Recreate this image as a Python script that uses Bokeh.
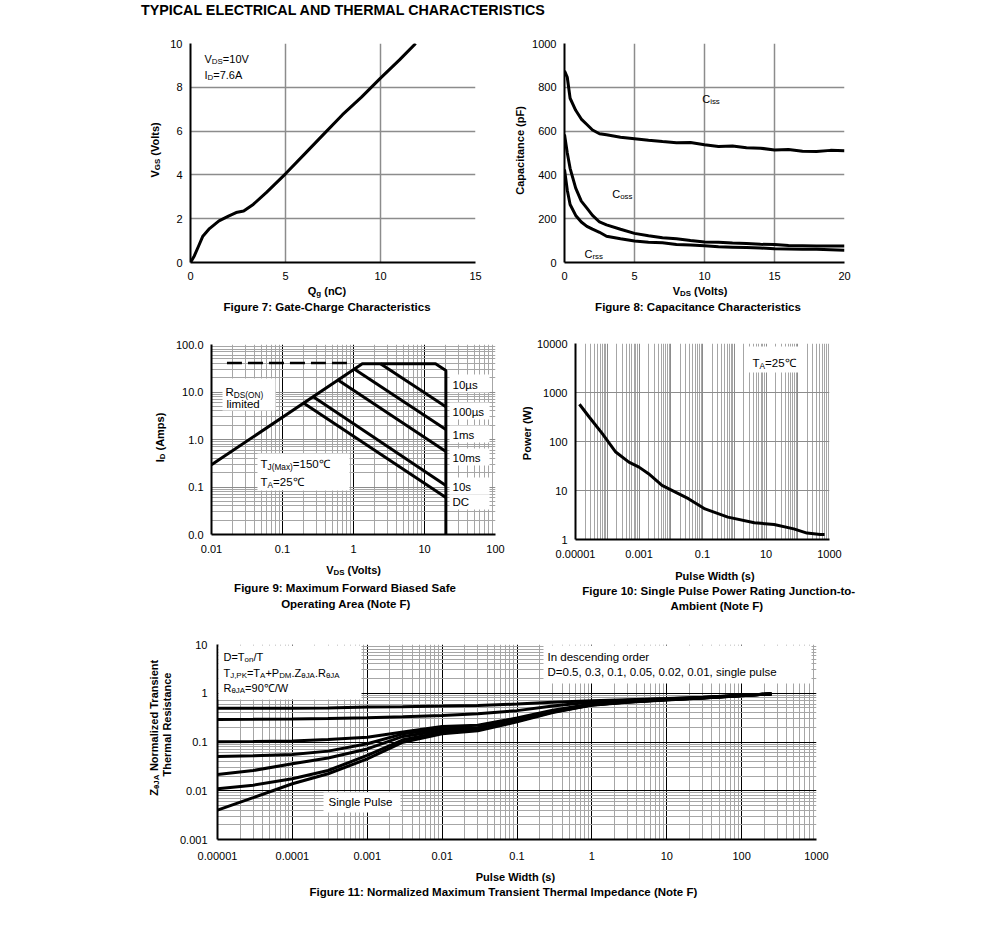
import math
from bokeh.plotting import figure
from bokeh.models import Label, BoxAnnotation, FixedTicker, CustomJSTickFormatter, Range1d, Div
from bokeh.layouts import column, row
from bokeh.embed import file_html
from bokeh.resources import INLINE

FONT = "Liberation Sans"

# ---------------- data ----------------
# Figure 7: gate charge
gate_charge_nc = [0, 0.2, 0.45, 0.65, 1.0, 1.5, 2.0, 2.4, 2.8, 3.3, 4.0, 5.0, 6.0, 7.0, 8.0, 9.0, 10.0, 11.0, 11.85]
gate_voltage_v = [0, 0.3, 0.8, 1.2, 1.55, 1.9, 2.12, 2.28, 2.35, 2.65, 3.2, 4.05, 4.95, 5.85, 6.75, 7.55, 8.42, 9.25, 10.0]
fig7_x_ticks = [0, 5, 10, 15]
fig7_y_ticks = [0, 2, 4, 6, 8, 10]

# Figure 8: capacitance
cap_vds_v = [0, 0.2, 0.4, 0.8, 1.2, 1.6, 2.0, 2.5, 3, 4, 5, 6, 7, 8, 9, 10, 11, 12, 13, 14, 15, 16, 17, 18, 19, 20]
ciss_pf = [875, 845, 750, 695, 655, 630, 605, 588, 583, 572, 565, 558, 552, 547, 548, 538, 530, 532, 524, 522, 514, 516, 508, 507, 512, 510]
coss_pf = [585, 500, 430, 340, 280, 248, 215, 185, 172, 152, 133, 122, 113, 108, 100, 94, 93, 89, 87, 83, 82, 78, 77, 75, 75, 75]
crss_pf = [425, 330, 265, 215, 185, 165, 152, 138, 120, 108, 98, 93, 90, 82, 80, 76, 72, 70, 68, 66, 63, 62, 60, 60, 58, 56]
fig8_x_ticks = [0, 5, 10, 15, 20]
fig8_y_ticks = [0, 200, 400, 600, 800, 1000]

# Figure 9: safe operating area
soa_env_v = [0.01, 1.33, 14.3, 20.0, 20.0]
soa_env_a = [0.293, 39.3, 39.3, 28.5, 0.01]
soa_dash_v = [0.0165, 0.82]
soa_dash_a = [41.0, 41.0]
soa_10us_v, soa_10us_a = [2.40, 20.0], [39.3, 4.9]
soa_100us_v, soa_100us_a = [1.01, 20.0], [30.8, 1.62]
soa_1ms_v, soa_1ms_a = [0.62, 20.0], [17.5, 0.56]
soa_10s_v, soa_10s_a = [0.271, 20.0], [7.94, 0.108]
soa_dc_v, soa_dc_a = [0.2, 20.0], [5.8, 0.06]
fig9_x_ticks = [0.01, 0.1, 1, 10, 100]
fig9_x_labels = ["0.01", "0.1", "1", "10", "100"]
fig9_y_ticks = [0.01, 0.1, 1, 10, 100]
fig9_y_labels = ["0.0", "0.1", "1.0", "10.0", "100.0"]

# Figure 10: single pulse power
pulse_t_s = [1.33e-5, 2.7e-5, 7e-5, 1.85e-4, 4.8e-4, 1e-3, 2e-3, 5.3e-3, 1.4e-2, 3.6e-2, 0.12, 0.63, 4.3, 18, 75, 195, 510, 700]
pulse_p_w = [575, 316, 145, 61, 38, 30, 22, 12.7, 9.3, 6.8, 4.2, 2.86, 2.19, 2.03, 1.65, 1.35, 1.27, 1.27]
fig10_x_ticks = [0.00001, 0.001, 0.1, 10, 1000]
fig10_x_labels = ["0.00001", "0.001", "0.1", "10", "1000"]
fig10_y_ticks = [1, 10, 100, 1000, 10000]
fig10_y_labels = ["1", "10", "100", "1000", "10000"]

# Figure 11: transient thermal impedance
zth_t_s = [1e-5, 3e-5, 1e-4, 3e-4, 1e-3, 3e-3, 1e-2, 3e-2, 0.1, 0.3, 1, 3, 10, 30, 100, 250]
zth_d050 = [0.49, 0.49, 0.495, 0.50, 0.52, 0.53, 0.545, 0.56, 0.60, 0.65, 0.70, 0.74, 0.78, 0.83, 0.91, 0.975]
zth_d030 = [0.29, 0.292, 0.297, 0.303, 0.314, 0.33, 0.35, 0.38, 0.44, 0.55, 0.66, 0.72, 0.77, 0.82, 0.905, 0.975]
zth_d010 = [0.101, 0.102, 0.105, 0.112, 0.125, 0.16, 0.208, 0.22, 0.31, 0.45, 0.60, 0.68, 0.75, 0.81, 0.90, 0.97]
zth_d005 = [0.0505, 0.052, 0.0555, 0.065, 0.092, 0.147, 0.187, 0.197, 0.29, 0.43, 0.59, 0.67, 0.745, 0.805, 0.895, 0.97]
zth_d002 = [0.0215, 0.026, 0.0357, 0.047, 0.072, 0.13, 0.172, 0.188, 0.28, 0.42, 0.58, 0.665, 0.74, 0.80, 0.895, 0.97]
zth_d001 = [0.011, 0.013, 0.0176, 0.026, 0.053, 0.111, 0.159, 0.18, 0.27, 0.41, 0.575, 0.66, 0.735, 0.80, 0.89, 0.97]
zth_single = [0.0040, 0.0072, 0.0139, 0.0223, 0.045, 0.099, 0.147, 0.17, 0.26, 0.40, 0.57, 0.655, 0.73, 0.795, 0.89, 0.97]
fig11_x_ticks = [0.00001, 0.0001, 0.001, 0.01, 0.1, 1, 10, 100, 1000]
fig11_x_labels = ["0.00001", "0.0001", "0.001", "0.01", "0.1", "1", "10", "100", "1000"]
fig11_y_ticks = [0.001, 0.01, 0.1, 1, 10]
fig11_y_labels = ["0.001", "0.01", "0.1", "1", "10"]

# ---------------- text metrics (Arial / Liberation Sans, per 1000 em) ----------------
REG = {' ': 278, '!': 278, '(': 333, ')': 333, '+': 584, ',': 278, '-': 333, '.': 278, '/': 278, ':': 278, '=': 584,
       'A': 667, 'B': 667, 'C': 722, 'D': 722, 'E': 667, 'F': 611, 'G': 778, 'H': 722, 'I': 278, 'J': 500, 'K': 667,
       'L': 556, 'M': 833, 'N': 722, 'O': 778, 'P': 667, 'Q': 778, 'R': 722, 'S': 667, 'T': 611, 'U': 722, 'V': 667,
       'W': 944, 'X': 667, 'Y': 667, 'Z': 611, 'a': 556, 'b': 556, 'c': 500, 'd': 556, 'e': 556, 'f': 278, 'g': 556,
       'h': 556, 'i': 222, 'j': 222, 'k': 500, 'l': 222, 'm': 833, 'n': 556, 'o': 556, 'p': 556, 'q': 556, 'r': 333,
       's': 500, 't': 278, 'u': 556, 'v': 500, 'w': 722, 'x': 500, 'y': 500, 'z': 500, 'µ': 576, 'θ': 556, '℃': 1000}
BOLD = {' ': 278, '(': 333, ')': 333, '-': 333, '.': 278, ':': 333, 'A': 722, 'B': 722, 'C': 722, 'D': 722, 'E': 667,
        'F': 611, 'G': 778, 'H': 722, 'I': 278, 'J': 556, 'L': 611, 'M': 833, 'N': 722, 'O': 778, 'P': 667, 'Q': 778,
        'R': 722, 'S': 667, 'T': 611, 'V': 667, 'W': 944, 'Z': 611, 'a': 556, 'c': 556, 'd': 611, 'e': 556, 'g': 611,
        'h': 611, 'i': 278, 'l': 278, 'm': 889, 'n': 611, 'o': 611, 'p': 611, 'r': 389, 's': 556, 't': 333, 'u': 611,
        'y': 556, 'z': 500, 'θ': 600}

ROT_FIX = 21  # rotated labels are drawn this much higher than their anchor; compensate


def text_w(s, fs, bold):
    table = BOLD if bold else REG
    return sum(table.get(ch, 556) for ch in s) * fs / 1000.0


def rich(p, frame, px, py, parts, size, bold=False, vertical=False, align="left"):
    """Place a run of text pieces (normal 'n' / subscript 's').
    (px, py) are page coordinates of the run's anchor; py (or px when vertical)
    is the visual middle line of the normal-size text."""
    fl, ft, fr, fb = frame
    pieces, total = [], 0.0
    for txt, kind in parts:
        fs = size * 0.72 if kind == "s" else size
        lead = len(txt) - len(txt.lstrip(" "))
        total += text_w(" " * lead, fs, bold)
        pieces.append((txt.lstrip(" "), fs, kind, total))
        total += text_w(txt.lstrip(" "), fs, bold)
    start = {"left": 0.0, "center": -total / 2.0, "right": -total}[align]
    for txt, fs, kind, adv in pieces:
        shift = (0.3465 * (size - fs) + size * 0.22) if kind == "s" else 0.0
        if vertical:
            gx, gy, ang = px + shift, py - (start + adv) + ROT_FIX, math.pi / 2
        else:
            gx, gy, ang = px + start + adv, py + shift, 0.0
        p.add_layout(Label(x=gx - fl, y=fb - gy, x_units="screen", y_units="screen",
                           angle=ang, text=txt,
                           text_font=FONT, text_font_size=f"{fs:.2f}px",
                           text_font_style="bold" if bold else "normal",
                           text_color="black", text_baseline="middle", text_align="left"))


def box(p, frame, x0, y0, x1, y1):
    fl, ft, fr, fb = frame
    p.add_layout(BoxAnnotation(left=x0 - fl, right=x1 - fl, top=fb - y0, bottom=fb - y1,
                               left_units="screen", right_units="screen",
                               top_units="screen", bottom_units="screen",
                               fill_color="white", fill_alpha=1.0, line_color=None))


def log_fmt(values, labels):
    return CustomJSTickFormatter(args=dict(vals=values, labs=labels), code="""
        for (let i = 0; i < vals.length; i++) {
            if (Math.abs(Math.log10(vals[i]) - Math.log10(tick)) < 1e-6) { return labs[i]; }
        }
        return "";
    """)


def decade_minors(lo_exp, hi_exp):
    return [k * 10.0 ** e for e in range(lo_exp, hi_exp) for k in range(2, 10)]


def make_fig(x0, y0, x1, y1, frame, xr, yr, xtype="linear", ytype="linear"):
    fl, ft, fr, fb = frame
    p = figure(width=x1 - x0, height=y1 - y0, x_range=Range1d(*xr), y_range=Range1d(*yr),
               x_axis_type=xtype, y_axis_type=ytype, output_backend="svg",
               toolbar_location=None, min_border_left=fl - x0, min_border_right=x1 - fr,
               min_border_top=ft - y0, min_border_bottom=y1 - fb, title=None)
    p.outline_line_color = None
    p.background_fill_color = "white"
    p.border_fill_color = "white"
    return p


def text_fig(x0, y0, x1, y1):
    """A bare canvas (no axes) that only carries text, so that labels are not clipped."""
    p = figure(width=x1 - x0, height=y1 - y0, x_range=Range1d(0, x1 - x0), y_range=Range1d(0, y1 - y0),
               x_axis_type=None, y_axis_type=None, output_backend="svg", toolbar_location=None,
               min_border=0, title=None)
    p.outline_line_color = None
    p.background_fill_color = "white"
    p.border_fill_color = "white"
    return p, (x0, y0, x1, y1)


def style_axes(p, xt, yt, xfmt=None, yfmt=None, xs=10, ys=8):
    for ax, ticks, fmt, st in ((p.xaxis[0], xt, xfmt, xs), (p.yaxis[0], yt, yfmt, ys)):
        ax.ticker = FixedTicker(ticks=ticks)
        if fmt is not None:
            ax.formatter = fmt
        ax.major_tick_line_color = None
        ax.minor_tick_line_color = None
        ax.major_tick_out = 0
        ax.major_tick_in = 0
        ax.minor_tick_out = 0
        ax.minor_tick_in = 0
        ax.major_label_standoff = st
        ax.major_label_text_font = FONT
        ax.major_label_text_font_size = "11px"
        ax.major_label_text_color = "black"
        ax.axis_line_color = "black"
        ax.axis_line_width = 2


def set_grid(g, major, minor, major_color, minor_color, major_w=1.0, minor_w=1.0):
    g.ticker = FixedTicker(ticks=major, minor_ticks=minor)
    g.grid_line_color = major_color
    g.grid_line_width = major_w
    g.grid_line_alpha = 1.0
    g.minor_grid_line_color = minor_color
    g.minor_grid_line_width = minor_w
    g.minor_grid_line_alpha = 1.0


GRID = "#8c8c8c"
MINOR = "#a6a6a6"

# ---------------- Figure 7 ----------------
F7 = (190, 43, 475, 262)
f7 = make_fig(166, 33, 500, 285, F7, (0, 15), (0, 10))
style_axes(f7, fig7_x_ticks, fig7_y_ticks, xs=9, ys=8)
set_grid(f7.xgrid[0], fig7_x_ticks[1:], [], GRID, None, 1.5)
set_grid(f7.ygrid[0], fig7_y_ticks[1:], [], GRID, None, 1.5)
f7.line(gate_charge_nc, gate_voltage_v, line_width=3, line_color="black")
rich(f7, F7, 204, 58, [("V", "n"), ("DS", "s"), ("=10V", "n")], 11)
rich(f7, F7, 204, 74, [("I", "n"), ("D", "s"), ("=7.6A", "n")], 11)
ylab7, B = text_fig(0, 33, 166, 285)
rich(ylab7, B, 154, 151, [("V", "n"), ("GS", "s"), (" (Volts)", "n")], 11, bold=True, vertical=True, align="center")
below7, B = text_fig(0, 285, 500, 325)
rich(below7, B, 326.5, 290, [("Q", "n"), ("g", "s"), (" (nC)", "n")], 11, bold=True, align="center")
rich(below7, B, 326.5, 306, [("Figure 7: Gate-Charge Characteristics", "n")], 11.5, bold=True, align="center")

# ---------------- Figure 8 ----------------
F8 = (564, 43, 844, 262)
f8 = make_fig(529, 33, 983, 285, F8, (0, 20), (0, 1000))
style_axes(f8, fig8_x_ticks, fig8_y_ticks, xs=9, ys=8)
set_grid(f8.xgrid[0], fig8_x_ticks[1:], [], GRID, None, 1.5)
set_grid(f8.ygrid[0], fig8_y_ticks[1:], [], GRID, None, 1.5)
f8.line(cap_vds_v, ciss_pf, line_width=3, line_color="black")
f8.line(cap_vds_v, coss_pf, line_width=3, line_color="black")
f8.line(cap_vds_v, crss_pf, line_width=3, line_color="black")
rich(f8, F8, 701.7, 98, [("C", "n"), ("iss", "s")], 11)
rich(f8, F8, 611.7, 193, [("C", "n"), ("oss", "s")], 11)
rich(f8, F8, 584, 253, [("C", "n"), ("rss", "s")], 11)
ylab8, B = text_fig(500, 33, 529, 285)
rich(ylab8, B, 519, 152, [("Capacitance (pF)", "n")], 11, bold=True, vertical=True, align="center")
below8, B = text_fig(500, 285, 983, 325)
rich(below8, B, 700, 290, [("V", "n"), ("DS", "s"), (" (Volts)", "n")], 11, bold=True, align="center")
rich(below8, B, 697.5, 306, [("Figure 8: Capacitance Characteristics", "n")], 11.5, bold=True, align="center")

# ---------------- Figure 9 ----------------
F9 = (211, 344, 495, 534)
f9 = make_fig(169, 325, 510, 557, F9, (0.01, 100), (0.01, 100), "log", "log")
style_axes(f9, fig9_x_ticks, fig9_y_ticks, log_fmt(fig9_x_ticks, fig9_x_labels),
           log_fmt(fig9_y_ticks, fig9_y_labels), xs=10, ys=8)
set_grid(f9.xgrid[0], fig9_x_ticks[1:], decade_minors(-2, 2), "#000000", MINOR, 1.0)
set_grid(f9.ygrid[0], fig9_y_ticks[1:], decade_minors(-2, 2), GRID, MINOR, 1.0)
f9.line(soa_dash_v, soa_dash_a, line_width=2.5, line_color="black", line_dash="15 6")
for vv, aa in ((soa_env_v, soa_env_a), (soa_10us_v, soa_10us_a), (soa_100us_v, soa_100us_a),
               (soa_1ms_v, soa_1ms_a), (soa_10s_v, soa_10s_a), (soa_dc_v, soa_dc_a)):
    f9.line(vv, aa, line_width=3, line_color="black")
box(f9, F9, 222, 378, 275, 410)
box(f9, F9, 257, 453, 349, 490)
for y0, y1 in ((374, 392), (402, 419), (425, 442), (448, 465), (477, 494), (494, 509)):
    box(f9, F9, 449, y0, 489, y1)
rich(f9, F9, 225, 391, [("R", "n"), ("DS(ON)", "s")], 11.5)
rich(f9, F9, 226, 403, [("limited", "n")], 11.5)
rich(f9, F9, 260, 463, [("T", "n"), ("J(Max)", "s"), ("=150℃", "n")], 11.5)
rich(f9, F9, 260, 481, [("T", "n"), ("A", "s"), ("=25℃", "n")], 11.5)
for txt, yc in (("10µs", 384), ("100µs", 411), ("1ms", 434), ("10ms", 457), ("10s", 486), ("DC", 501)):
    rich(f9, F9, 452, yc, [(txt, "n")], 11.5)
ylab9, B = text_fig(0, 325, 169, 557)
rich(ylab9, B, 159, 439, [("I", "n"), ("D", "s"), (" (Amps)", "n")], 11, bold=True, vertical=True, align="center")
below9, B = text_fig(0, 557, 510, 625)
rich(below9, B, 353.5, 569, [("V", "n"), ("DS", "s"), (" (Volts)", "n")], 11, bold=True, align="center")
rich(below9, B, 344.5, 587, [("Figure 9: Maximum Forward Biased Safe", "n")], 11.5, bold=True, align="center")
rich(below9, B, 345.5, 603, [("Operating Area (Note F)", "n")], 11.5, bold=True, align="center")

# ---------------- Figure 10 ----------------
F10 = (573, 343, 829, 539)
f10 = make_fig(533, 325, 983, 562, F10, (0.00001, 1000), (1, 10000), "log", "log")
style_axes(f10, fig10_x_ticks, fig10_y_ticks, log_fmt(fig10_x_ticks, fig10_x_labels),
           log_fmt(fig10_y_ticks, fig10_y_labels), xs=10, ys=8)
set_grid(f10.xgrid[0], [10.0 ** e for e in range(-4, 4)], decade_minors(-5, 3), GRID, MINOR, 1.0, 1.0)
set_grid(f10.ygrid[0], fig10_y_ticks[1:], [], GRID, None, 1.0)
f10.line(pulse_t_s, pulse_p_w, line_width=3, line_color="black")
box(f10, F10, 746, 346, 803, 372)
rich(f10, F10, 750, 362, [("T", "n"), ("A", "s"), ("=25℃", "n")], 11.5)
ylab10, B = text_fig(510, 325, 533, 562)
rich(ylab10, B, 526, 436, [("Power (W)", "n")], 11, bold=True, vertical=True, align="center")
below10, B = text_fig(510, 562, 983, 625)
rich(below10, B, 714.5, 575, [("Pulse Width (s)", "n")], 11, bold=True, align="center")
rich(below10, B, 717, 590, [("Figure 10: Single Pulse Power Rating Junction-to-", "n")], 11.5, bold=True, align="center")
rich(below10, B, 716, 605, [("Ambient (Note F)", "n")], 11.5, bold=True, align="center")

# ---------------- Figure 11 ----------------
F11 = (216, 644, 816, 839)
f11 = make_fig(176, 625, 983, 864, F11, (0.00001, 1000), (0.001, 10), "log", "log")
style_axes(f11, fig11_x_ticks, fig11_y_ticks, log_fmt(fig11_x_ticks, fig11_x_labels),
           log_fmt(fig11_y_ticks, fig11_y_labels), xs=12, ys=10)
set_grid(f11.xgrid[0], fig11_x_ticks[1:], decade_minors(-5, 3), "#000000", MINOR, 1.0, 1.0)
set_grid(f11.ygrid[0], fig11_y_ticks[1:], decade_minors(-3, 1), "#000000", MINOR, 1.0, 1.0)
for series in (zth_d050, zth_d030, zth_d010, zth_d005, zth_d002, zth_d001, zth_single):
    f11.line(zth_t_s, series, line_width=3, line_color="black")
box(f11, F11, 217, 645, 360, 699)
box(f11, F11, 542, 645, 810, 683)
box(f11, F11, 322, 792, 399, 812)
rich(f11, F11, 222, 656, [("D=T", "n"), ("on", "s"), ("/T", "n")], 11)
rich(f11, F11, 222, 672, [("T", "n"), ("J,PK", "s"), ("=T", "n"), ("A", "s"), ("+P", "n"), ("DM", "s"),
                          (".Z", "n"), ("θJA", "s"), (".R", "n"), ("θJA", "s")], 11)
rich(f11, F11, 222, 687, [("R", "n"), ("θJA", "s"), ("=90℃/W", "n")], 11)
rich(f11, F11, 327, 801, [("Single Pulse", "n")], 11.5)
rich(f11, F11, 546, 656, [("In descending order", "n")], 11.5)
rich(f11, F11, 546, 671, [("D=0.5, 0.3, 0.1, 0.05, 0.02, 0.01, single pulse", "n")], 11.5)
ylab11, B = text_fig(0, 625, 176, 864)
rich(ylab11, B, 153, 731, [("Z", "n"), ("θJA", "s"), (" Normalized Transient", "n")], 11, bold=True, vertical=True, align="center")
rich(ylab11, B, 166.5, 728, [("Thermal Resistance", "n")], 11, bold=True, vertical=True, align="center")
below11, B = text_fig(0, 864, 983, 915)
rich(below11, B, 515, 876, [("Pulse Width (s)", "n")], 11, bold=True, align="center")
rich(below11, B, 503.5, 891, [("Figure 11: Normalized Maximum Transient Thermal Impedance (Note F)", "n")], 11.5, bold=True, align="center")

# ---------------- page ----------------
title = Div(text=("<div style=\"position:relative;left:141px;top:2px;font-family:'Liberation Sans';"
                  "font-weight:bold;font-size:14.3px;line-height:16px;white-space:nowrap;color:black;\">"
                  "TYPICAL ELECTRICAL AND THERMAL CHARACTERISTICS</div>"),
            width=983, height=33, margin=(0, 0, 0, 0))

chart7 = column(row(ylab7, f7), below7)
chart8 = column(row(ylab8, f8), below8)
chart9 = column(row(ylab9, f9), below9)
chart10 = column(row(ylab10, f10), below10)
chart11 = column(row(ylab11, f11), below11)

layout = column(title, row(chart7, chart8), row(chart9, chart10), chart11)
open("out.html", "w").write(file_html(layout, INLINE))
